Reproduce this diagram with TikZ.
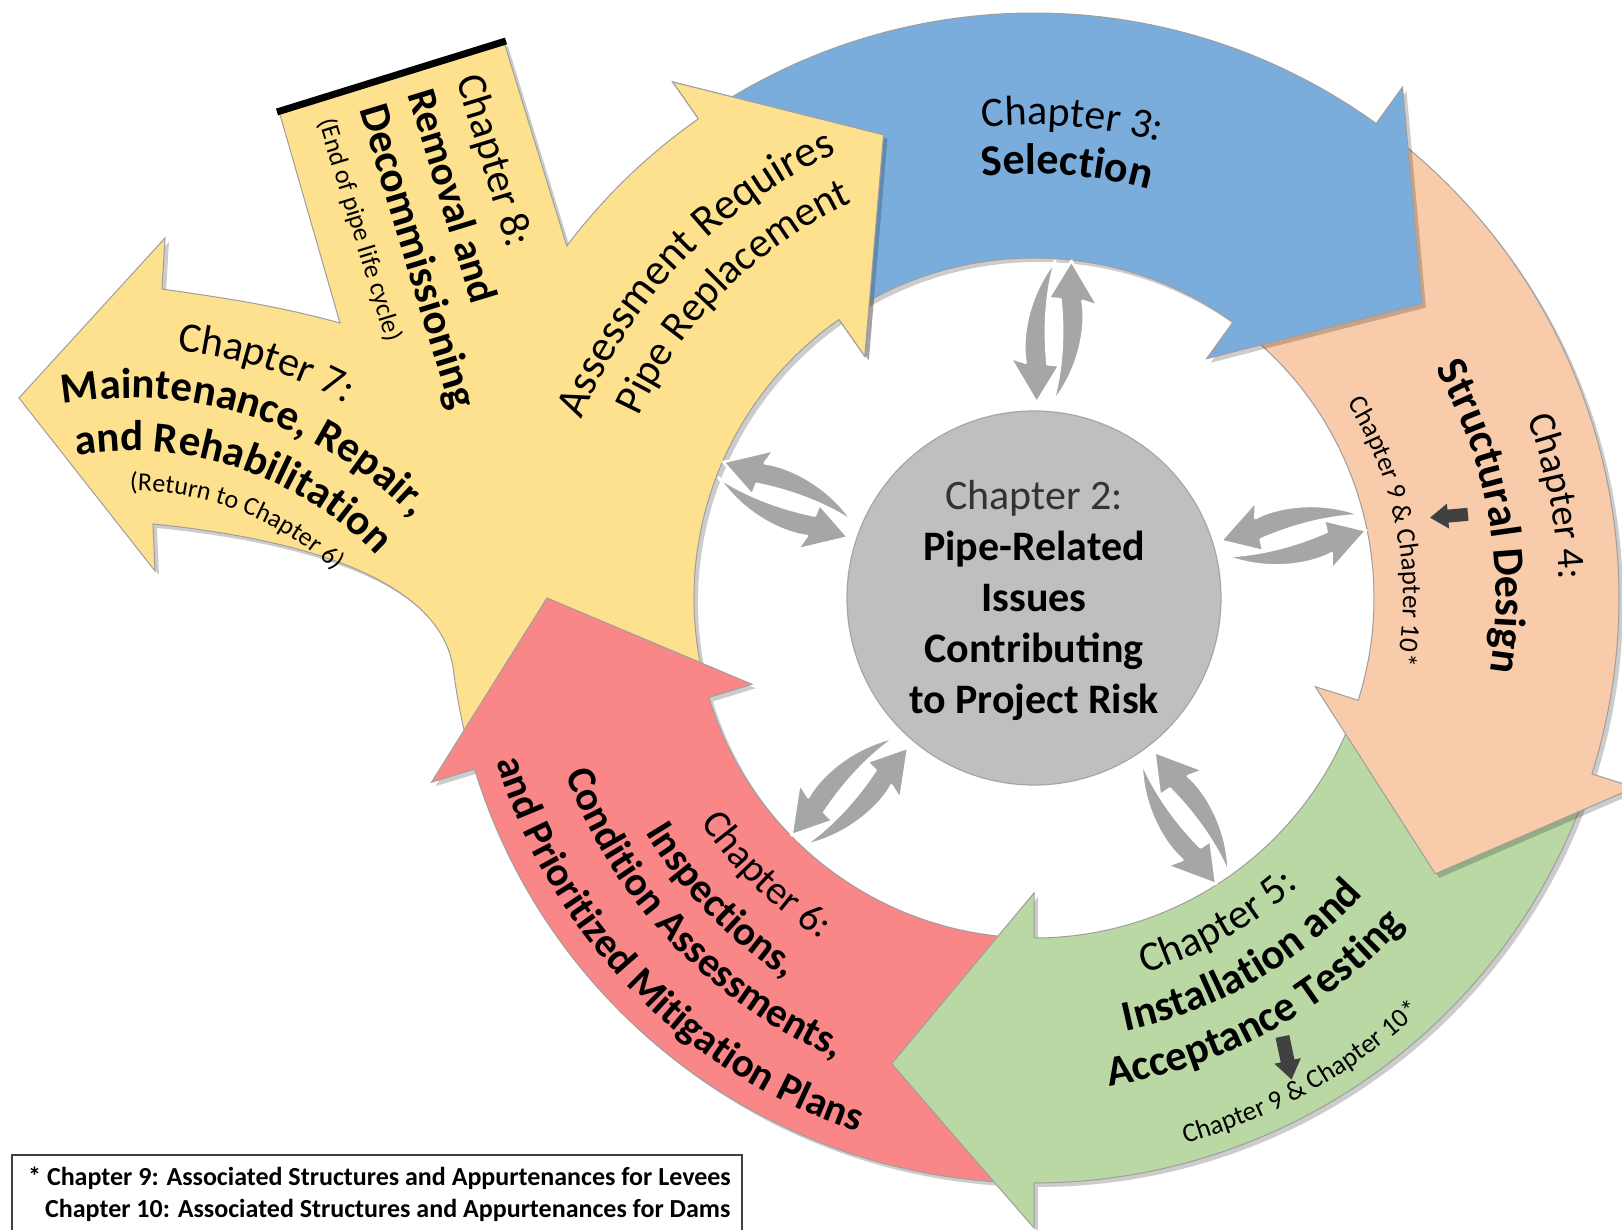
\documentclass[tikz,border=0pt]{standalone}
\usepackage{fontspec}
\setmainfont{Carlito}
\usetikzlibrary{decorations.text,shadows}
\definecolor{cBlue}{HTML}{7AADDC}
\definecolor{cPeach}{HTML}{F8CBAB}
\definecolor{cGreen}{HTML}{B9D8A3}
\definecolor{cRed}{HTML}{F98787}
\definecolor{cYellow}{HTML}{FDE18E}
\definecolor{cCircle}{HTML}{BFBFBF}
\definecolor{cSwap}{HTML}{A6A6A6}
\definecolor{cDark}{HTML}{404040}
\newcommand{\RegXL}{\fontsize{44}{44}\selectfont}
\newcommand{\RegL}{\fontsize{42}{42}\selectfont}
\newcommand{\RegM}{\fontsize{39}{39}\selectfont}
\newcommand{\RegR}{\fontsize{40}{40}\selectfont}
\newcommand{\RegS}{\fontsize{27}{27}\selectfont}
\newcommand{\RegXS}{\fontsize{26}{26}\selectfont}
\newcommand{\BoldXL}{\fontsize{44}{44}\selectfont\bfseries}
\newcommand{\BoldL}{\fontsize{43}{43}\selectfont\bfseries}
\newcommand{\BoldR}{\fontsize{41}{41}\selectfont\bfseries}
\newcommand{\LegFont}{\fontsize{26}{28}\selectfont\bfseries}
% #1 extra options, #2 radius, #3 start angle, #4 end angle, #5 format, #6 text
\newcommand{\arctext}[6]{%
  \path[#1,decorate,decoration={text along path,text={|#5|#6},text align=center}]
    (#3:#2) arc[start angle=#3,end angle=#4,radius=#2];}
% #1 tail angle, #2 barb angle, #3 style
\newcommand{\cyclearrow}[3]{%
  \filldraw[#3] (#1:585) arc[start angle=#1,end angle=#2,radius=585]
    -- (#2:630) -- ({#2-17}:487) -- (#2:295) -- (#2:340)
    arc[start angle=#2,end angle=#1,radius=340] -- cycle;}
\newcommand{\swappair}[1]{%
  \begin{scope}[rotate=#1]
    \path[swapstyle] (338,4) .. controls (300,30) and (256,32) .. (234,26) -- (238,42) -- (195,12)
      -- (234,-8) -- (234,4) .. controls (262,9) and (300,12) .. (338,4) -- cycle;
    \path[swapstyle, rotate around={180:(267,0)}] (338,4) .. controls (300,30) and (256,32) .. (234,26)
      -- (238,42) -- (195,12) -- (234,-8) -- (234,4) .. controls (262,9) and (300,12) .. (338,4) -- cycle;
  \end{scope}}
\begin{document}
\begin{tikzpicture}[x=1pt,y=1pt,
  edge/.style={draw=black!38, line width=1pt},
  shadowed/.style={drop shadow={fill=black,opacity=0.2,shadow xshift=4pt,shadow yshift=-4pt}},
  swapstyle/.style={fill=cSwap, draw=white, line width=2.5pt, line join=round},
  txt/.style={inner sep=0pt, text=black}]
\useasboundingbox (-1034,-632) rectangle (588,598);
\fill[white] (-1034,-632) rectangle (588,598);

% yellow shape with its two branches
\filldraw[fill=cYellow, edge, shadowed] (194:585) arc[start angle=194,end angle=187.2,radius=585]
  .. controls (-592,25) and (-751,61) .. (-881,74)
  -- (-879,27) -- (-1015,200) -- (-869,360) -- (-872,309)
  .. controls (-810,300) and (-760,293) .. (-694,275)
  -- (-755,487) -- (-530,556) -- (143:585)
  arc[start angle=143,end angle=125,radius=585]
  -- (125:630) -- (108:487) -- (125:295) -- (125:340)
  arc[start angle=125,end angle=194,radius=340] -- cycle;
\draw[line width=7pt] (-757,486) -- (-528,557);

% cycle arrows
\cyclearrow{-93}{-163}{fill=cRed, edge, shadowed}
\cyclearrow{-20.5}{-90}{fill=cGreen, edge, shadowed}
\cyclearrow{51.2}{-17.5}{fill=cPeach, edge, shadowed}
\cyclearrow{122}{54.2}{fill=cBlue, edge, shadowed}
% yellow head on top of blue tail
\fill[cYellow, shadowed] (125:585) -- (125:630) -- (108:487) -- (125:295) -- (125:340) -- cycle;
\draw[edge] (125:585) -- (125:630) -- (108:487) -- (125:295) -- (125:340);

% centre
\filldraw[fill=cCircle, draw=black!35, line width=1.2pt] (0,0) circle[radius=187];
\node[txt, align=center, font=\fontsize{42}{51}\selectfont\bfseries] (core) at (0,-2)
  {{\mdseries\color{black!80}Chapter 2:}\\Pipe-Related\\Issues\\Contributing\\to Project Risk};

\swappair{85.7}
\swappair{13.5}
\swappair{304.5}
\swappair{226.4}
\swappair{158.4}

% small dark arrows
\fill[cDark, shift={(415,82)}, rotate=185] (-19,-6.5) -- (1,-6.5) -- (1,-12.5) -- (19,0) -- (1,12.5) -- (1,6.5) -- (-19,6.5) -- cycle;
\fill[cDark, shift={(253,-460)}, rotate=-78] (-22,-7) -- (3,-7) -- (3,-13.5) -- (22,0) -- (3,13.5) -- (3,7) -- (-22,7) -- cycle;

% blue texts
\arctext{}{473}{145.4}{25.4}{\RegL}{Chapter 3:}
\arctext{}{424}{145.6}{25.6}{\BoldXL}{Selection}
% peach texts
\arctext{}{525}{71}{-49}{\RegM}{Chapter 4:}
\arctext{}{462}{70.3}{-49.7}{\BoldXL}{Structural Design}
\arctext{}{369}{70.8}{-49.2}{\RegS}{Chapter 9 {\&} Chapter 10*}
% green texts
\arctext{}{391}{239.5}{359.5}{\RegL}{Chapter 5:}
\arctext{}{443}{240}{360}{\BoldL}{Installation and}
\arctext{}{494}{238.7}{358.7}{\BoldL}{Acceptance Testing}
\arctext{}{566}{239.3}{359.3}{\RegS}{Chapter 9 {\&} Chapter 10*}
% red texts
\arctext{}{402}{166}{286}{\RegR}{Chapter 6:}
\arctext{}{454}{164}{284}{\BoldR}{Inspections,}
\arctext{}{501}{163.7}{283.7}{\BoldR}{Condition Assessments,}
\arctext{}{562}{164.3}{284.3}{\BoldR}{and Prioritized Mitigation Plans}
% yellow texts
\arctext{}{486}{196.2}{76.2}{\RegXL}{Assessment Requires}
\arctext{}{435}{195}{75}{\RegL}{Pipe Replacement}
\arctext{shift={(-903,-193)}}{443}{132.5}{12.5}{\RegL}{Chapter 7:}
\arctext{shift={(-903,-193)}}{393}{132}{12}{\BoldL}{Maintenance, Repair,}
\arctext{shift={(-903,-193)}}{340}{131.5}{11.5}{\BoldL}{and Rehabilitation}
\arctext{shift={(-903,-193)}}{300}{128.7}{8.7}{\RegXS}{(Return to Chapter 6)}

\node[txt, anchor=west, rotate=-73, font=\RegL] (ch8a) at (-567,522) {Chapter 8:};
\node[txt, anchor=west, rotate=-73, font=\BoldR] (ch8b) at (-613,508) {Removal and};
\node[txt, anchor=west, rotate=-73, font=\BoldL] (ch8c) at (-664,492) {Decommissioning};
\node[txt, anchor=west, rotate=-73, font=\RegXS] (ch8d) at (-708,479) {(End of pipe life cycle)};

% legend
\draw[black!75, line width=1.3pt] (-1022,-640) -- (-1022,-557) -- (-292,-557) -- (-292,-640);
\node[txt, anchor=west, font=\LegFont] (leg1) at (-1006,-580)
  {* Chapter 9: Associated Structures and Appurtenances for Levees};
\node[txt, anchor=west, font=\LegFont] (leg2) at (-989,-612)
  {Chapter 10: Associated Structures and Appurtenances for Dams};
\end{tikzpicture}
\end{document}
